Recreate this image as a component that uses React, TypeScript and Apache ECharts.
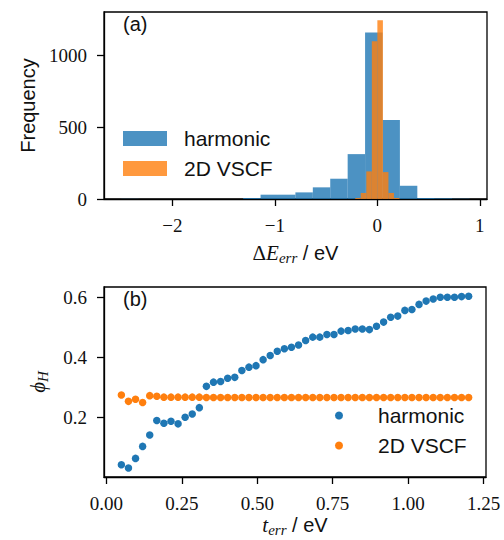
import React, { useEffect, useRef } from 'react';
import * as echarts from 'echarts';

// (a) histogram of Delta E_err
const harmonicEdges = [-2.5, -2.33, -2.16, -1.99, -1.82, -1.65, -1.48, -1.31, -1.14, -0.97, -0.8, -0.63, -0.46, -0.29, -0.12, 0.05, 0.22, 0.39, 0.56, 0.73, 0.9];
const harmonicCounts = [1, 0, 0, 0, 0, 0, 0, 7, 30, 30, 46, 81, 141, 312, 1157, 550, 92, 7, 5, 2];
const vscfEdges = [-0.216, -0.162, -0.108, -0.054, 0, 0.054, 0.108, 0.162, 0.216];
const vscfCounts = [7, 42, 192, 1097, 1242, 187, 42, 7];
const xTicksA = [-2, -1, 0, 1];
const yTicksA = [0, 500, 1000];

// (b) phi_H vs t_err
const tErr = [0.05, 0.0735, 0.0969, 0.1204, 0.1439, 0.1673, 0.1908, 0.2143, 0.2378, 0.2612, 0.2847, 0.3082, 0.3316, 0.3551, 0.3786, 0.402, 0.4255, 0.449, 0.4724, 0.4959, 0.5194, 0.5429, 0.5663, 0.5898, 0.6133, 0.6367, 0.6602, 0.6837, 0.7071, 0.7306, 0.7541, 0.7776, 0.801, 0.8245, 0.848, 0.8714, 0.8949, 0.9184, 0.9418, 0.9653, 0.9888, 1.0122, 1.0357, 1.0592, 1.0827, 1.1061, 1.1296, 1.1531, 1.1765, 1.2];
const phiHarmonic = [0.042, 0.031, 0.063, 0.103, 0.141, 0.189, 0.18, 0.187, 0.178, 0.2, 0.211, 0.232, 0.303, 0.317, 0.319, 0.33, 0.333, 0.356, 0.367, 0.372, 0.392, 0.406, 0.42, 0.428, 0.433, 0.441, 0.456, 0.467, 0.467, 0.476, 0.476, 0.487, 0.489, 0.494, 0.494, 0.492, 0.503, 0.517, 0.533, 0.537, 0.556, 0.559, 0.576, 0.587, 0.594, 0.6, 0.6, 0.6, 0.602, 0.603];
const phiVSCF = [0.274, 0.253, 0.26, 0.249, 0.272, 0.27, 0.267, 0.267, 0.267, 0.267, 0.267, 0.267, 0.266, 0.266, 0.266, 0.266, 0.266, 0.266, 0.266, 0.266, 0.266, 0.266, 0.266, 0.266, 0.266, 0.266, 0.266, 0.266, 0.266, 0.266, 0.266, 0.266, 0.266, 0.266, 0.266, 0.266, 0.266, 0.266, 0.266, 0.266, 0.266, 0.266, 0.266, 0.266, 0.266, 0.266, 0.266, 0.266, 0.266, 0.266];
const xTicksB = [0, 0.25, 0.5, 0.75, 1, 1.25];
const yTicksB = [0.2, 0.4, 0.6];

const BLUE = '#1f77b4';
const ORANGE = '#ff7f0e';
const SERIF = 'Liberation Serif';
const SANS = 'Liberation Sans';

function binData(edges: number[], counts: number[]) {
  return counts.map((c, i) => [edges[i], edges[i + 1], c]);
}

function histRender(color: string) {
  return (params: any, api: any) => {
    const p0 = api.coord([api.value(0), 0]);
    const p1 = api.coord([api.value(1), api.value(2)]);
    return {
      type: 'rect',
      shape: { x: p0[0], y: p1[1], width: p1[0] - p0[0], height: p0[1] - p1[1] },
      style: { fill: color, opacity: 0.8 },
    };
  };
}

const axisCommon = {
  axisLine: { show: true, onZero: false, lineStyle: { color: '#000', width: 1.3 } },
  splitLine: { show: false },
};

export default function App() {
  const ref = useRef<HTMLDivElement>(null);
  useEffect(() => {
    if (!ref.current) return;
    const chart = echarts.init(ref.current, null, { renderer: 'svg' });
    const tickLabel = { fontFamily: SERIF, fontSize: 19, color: '#111', margin: 17 };
    const nameRich = {
      m: { fontFamily: SERIF, fontSize: 21, color: '#111' },
      i: { fontFamily: SERIF, fontStyle: 'italic', fontSize: 21, color: '#111' },
      s: { fontFamily: SERIF, fontStyle: 'italic', fontSize: 15, color: '#111', padding: [9, 0, 0, 0] },
      t: { fontFamily: SANS, fontSize: 20, color: '#111' },
    };
    const option: any = {
      animation: false,
      backgroundColor: '#fff',
      textStyle: { fontFamily: SERIF },
      grid: [
        { left: 104, top: 12, width: 383, height: 187, show: true, borderColor: '#000', borderWidth: 1.3, backgroundColor: 'transparent' },
        { left: 104, top: 287, width: 382, height: 190, show: true, borderColor: '#000', borderWidth: 1.3, backgroundColor: 'transparent' },
      ],
      xAxis: [
        {
          ...axisCommon,
          type: 'value', gridIndex: 0, min: -2.668, max: 1.07,
          axisTick: { show: true, length: 7, customValues: xTicksA, lineStyle: { color: '#000', width: 1.3 } },
          axisLabel: { ...tickLabel, customValues: xTicksA, formatter: (v: number) => (v < 0 ? '\u2212' + Math.abs(v) : String(v)) },
          name: '{m|\u0394}{i|E}{s|err}{t| / eV}', nameLocation: 'middle', nameGap: 42,
          nameTextStyle: { rich: nameRich },
        },
        {
          ...axisCommon,
          type: 'value', gridIndex: 1, min: -0.0075, max: 1.2575,
          axisTick: { show: true, length: 7, customValues: xTicksB, lineStyle: { color: '#000', width: 1.3 } },
          axisLabel: { ...tickLabel, customValues: xTicksB, formatter: (v: number) => v.toFixed(2) },
          name: '{i|t}{s|err}{t| / eV}', nameLocation: 'middle', nameGap: 36,
          nameTextStyle: { rich: nameRich },
        },
      ],
      yAxis: [
        {
          ...axisCommon,
          type: 'value', gridIndex: 0, min: 0, max: 1300,
          axisTick: { show: true, length: 7, customValues: yTicksA, lineStyle: { color: '#000', width: 1.3 } },
          axisLabel: { ...tickLabel, customValues: yTicksA, formatter: (v: number) => String(v) },
          name: 'Frequency', nameLocation: 'middle', nameRotate: 90, nameGap: 66,
          nameTextStyle: { fontFamily: SANS, fontSize: 20, color: '#111' },
        },
        {
          ...axisCommon,
          type: 'value', gridIndex: 1, min: 0.001, max: 0.634,
          axisTick: { show: true, length: 7, customValues: yTicksB, lineStyle: { color: '#000', width: 1.3 } },
          axisLabel: { ...tickLabel, customValues: yTicksB, formatter: (v: number) => v.toFixed(1) },
          name: '{i|\u03D5}{s|H}', nameLocation: 'middle', nameRotate: 90, nameGap: 54,
          nameTextStyle: { rich: nameRich },
        },
      ],
      legend: [
        {
          orient: 'vertical', left: 123, top: 128, padding: 0, itemWidth: 44, itemHeight: 15, itemGap: 9,
          selectedMode: false,
          data: [
            { name: 'harmonic', icon: 'rect', itemStyle: { color: '#4c92c3', opacity: 1 } },
            { name: '2D VSCF', icon: 'rect', itemStyle: { color: '#ff993e', opacity: 1 } },
          ],
          textStyle: { fontFamily: SANS, fontSize: 21, color: '#111', padding: [0, 0, 0, 12] },
        },
        {
          orient: 'vertical', left: 335, top: 405, padding: 0, itemWidth: 8, itemHeight: 8, itemGap: 9,
          selectedMode: false,
          data: [
            { name: 'harmonic', icon: 'circle', itemStyle: { color: BLUE, opacity: 1 } },
            { name: '2D VSCF', icon: 'circle', itemStyle: { color: ORANGE, opacity: 1 } },
          ],
          textStyle: { fontFamily: SANS, fontSize: 21, color: '#111', padding: [0, 0, 0, 30] },
        },
      ],
      graphic: [
        { type: 'text', left: 123, top: 14, style: { text: '(a)', fontFamily: SANS, fontSize: 20, fill: '#111' } },
        { type: 'text', left: 123, top: 289, style: { text: '(b)', fontFamily: SANS, fontSize: 20, fill: '#111' } },
      ],
      series: [
        {
          type: 'custom', name: 'harmonic', xAxisIndex: 0, yAxisIndex: 0,
          itemStyle: { color: BLUE },
          encode: { x: [0, 1], y: 2 },
          renderItem: histRender(BLUE),
          data: binData(harmonicEdges, harmonicCounts),
        },
        {
          type: 'custom', name: '2D VSCF', xAxisIndex: 0, yAxisIndex: 0,
          itemStyle: { color: ORANGE },
          encode: { x: [0, 1], y: 2 },
          renderItem: histRender(ORANGE),
          data: binData(vscfEdges, vscfCounts),
        },
        {
          type: 'scatter', name: 'harmonic', xAxisIndex: 1, yAxisIndex: 1,
          symbolSize: 7.5, itemStyle: { color: BLUE, opacity: 1 },
          data: tErr.map((t, i) => [t, phiHarmonic[i]]),
        },
        {
          type: 'scatter', name: '2D VSCF', xAxisIndex: 1, yAxisIndex: 1,
          symbolSize: 7.5, itemStyle: { color: ORANGE, opacity: 1 },
          data: tErr.map((t, i) => [t, phiVSCF[i]]),
        },
      ],
    };
    chart.setOption(option);
    return () => chart.dispose();
  }, []);
  return <div ref={ref} style={{ position: 'fixed', left: 0, top: 0, width: 504, height: 540, background: '#fff' }} />;
}
